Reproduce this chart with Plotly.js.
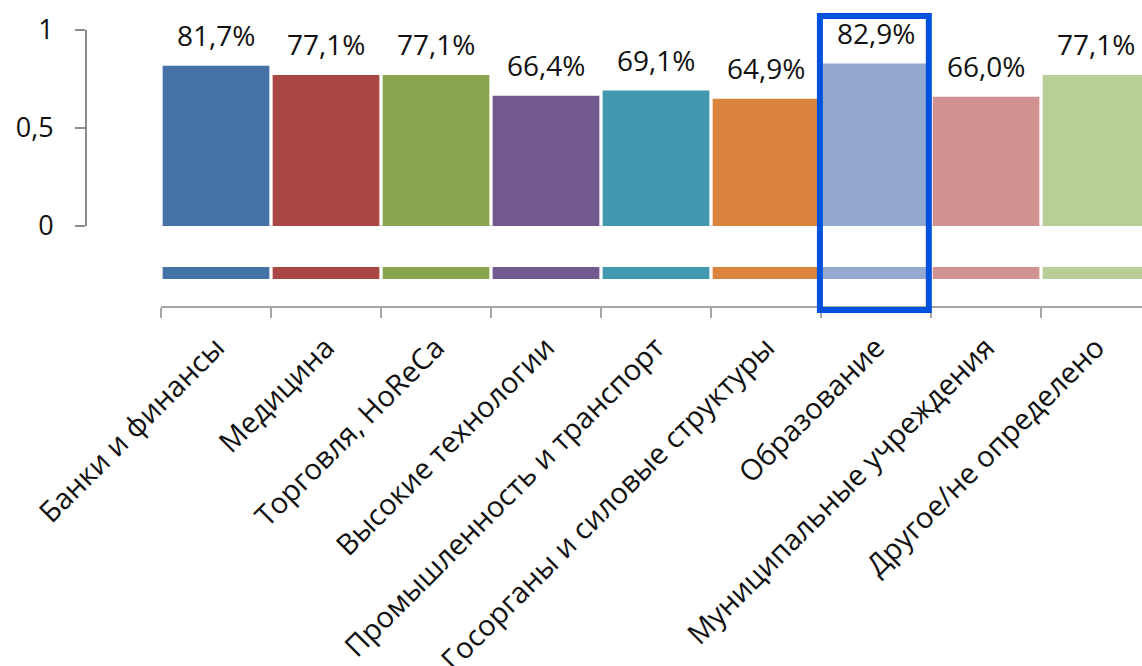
<!DOCTYPE html>
<html><head><meta charset="utf-8">
<script src="https://cdn.plot.ly/plotly-3.0.1.min.js"></script>
<style>html,body{margin:0;padding:0;background:#fff;}#chart{width:1142px;height:666px;}</style>
</head><body><div id="chart"></div>
<script>
const categories = ["Банки и финансы","Медицина","Торговля, HoReCa","Высокие технологии","Промышленность и транспорт","Госорганы и силовые структуры","Образование","Муниципальные учреждения","Другое/не определено"];
const shares = [0.817,0.771,0.771,0.664,0.691,0.649,0.829,0.660,0.771];
const colors = ["#4572A7","#AA4643","#89A54E","#71588F","#4198AF","#DB843D","#93A9CF","#D19392","#B9CD96"];
const floorBand = [1,1,1,1,1,1,1,1,1];
const yTickVals = [0,0.5,1];
const yTickText = ["0","0,5","1"];
const highlighted = "Образование";

const FONT = "Open Sans, Noto Sans, sans-serif";
const fmt = v => (v*100).toFixed(1).replace('.', ',') + '%';

const traces = [
  {type:'bar', x:categories, y:shares, xaxis:'x', yaxis:'y',
   marker:{color:colors, line:{width:0}}, hoverinfo:'skip', cliponaxis:false},
  {type:'bar', x:categories, y:floorBand, xaxis:'x', yaxis:'y2',
   marker:{color:colors, line:{width:0}}, hoverinfo:'skip'}
];

const annotations = categories.map((c,i)=>({
  x:c, y:shares[i], xref:'x', yref:'y', text:fmt(shares[i]), showarrow:false,
  yanchor:'bottom', yshift:10, font:{family:FONT, size:28, color:'#111'}
}));

const hi = categories.indexOf(highlighted);
const shapes = [
  {type:'line', xref:'paper', yref:'y', x0:0.071, x1:1, y0:0, y1:0,
   line:{color:'#E3E3E3', width:2}, layer:'below'},
  {type:'rect', xref:'x', yref:'paper', x0:hi-0.51, x1:hi+0.48, y0:-0.0145, y1:1.0507,
   line:{color:'#0052DC', width:6}, fillcolor:'rgba(0,0,0,0)'}
];

const layout = {
  width:1142, height:666,
  margin:{l:86, r:0, t:30, b:360, pad:0},
  paper_bgcolor:'#fff', plot_bgcolor:'rgba(0,0,0,0)',
  showlegend:false, bargap:0.03,
  font:{family:FONT, color:'#111'},
  xaxis:{domain:[0.07102,1], anchor:'y2', type:'category', range:[-0.5,8.418], autorange:false,
    showline:true, linecolor:'#A6A6A6', linewidth:2, ticks:'outside', tickson:'boundaries',
    ticklen:10, tickwidth:2, tickcolor:'#A6A6A6', tickangle:-45, ticklabelstandoff:11,
    tickfont:{family:FONT, size:29, color:'#111'}, showgrid:false, zeroline:false, fixedrange:true},
  yaxis:{domain:[0.2899,1], anchor:'free', position:0, range:[0,1], autorange:false,
    tickvals:yTickVals, ticktext:yTickText, showline:true, linecolor:'#8C8C8C', linewidth:2,
    ticks:'outside', ticklen:10, tickwidth:2, tickcolor:'#8C8C8C', ticklabelstandoff:16,
    tickfont:{family:FONT, size:27, color:'#111'}, showgrid:false, zeroline:false, fixedrange:true},
  yaxis2:{domain:[0,0.1413], anchor:'x', range:[-2.25,1], autorange:false, visible:false,
    showgrid:false, zeroline:false, fixedrange:true},
  annotations:annotations, shapes:shapes
};

Plotly.newPlot('chart', traces, layout, {displayModeBar:false, staticPlot:true});
</script></body></html>
